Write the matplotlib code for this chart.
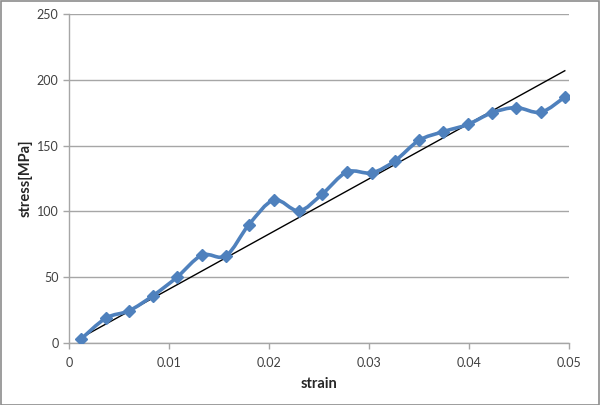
import matplotlib
matplotlib.use("Agg")
import matplotlib.pyplot as plt
from matplotlib.path import Path
from matplotlib.patches import PathPatch, Rectangle
import numpy as np

strain = [0.0012, 0.0037, 0.0060, 0.0084, 0.0108, 0.0133, 0.0157, 0.0180,
          0.0205, 0.0230, 0.0253, 0.0278, 0.0303, 0.0326, 0.0350, 0.0374,
          0.0399, 0.0423, 0.0447, 0.0472, 0.0496]
stress = [3, 19, 24.5, 36, 50, 66.8, 66.3, 90, 108.7, 100.5, 113, 130,
          129.4, 138.5, 154, 160.6, 166.2, 175, 179, 175.5, 187]
fit_x = [0.0012, 0.0496]
fit_y = [4.0, 207.0]

x_ticks = [0, 0.01, 0.02, 0.03, 0.04, 0.05]
x_labels = ["0", "0.01", "0.02", "0.03", "0.04", "0.05"]
y_ticks = [0, 50, 100, 150, 200, 250]

plt.rcParams['font.family'] = ['Lato', 'DejaVu Sans']

fig = plt.figure(figsize=(6, 4.05), dpi=100)
ax = fig.add_axes([0.115, 0.153, 0.833, 0.812])
fig.patches.append(Rectangle((0.001, 0.001), 0.997, 0.996, transform=fig.transFigure,
                             fill=False, edgecolor='#8c8c8c', linewidth=1.2))

ax.set_xlim(0, 0.05)
ax.set_ylim(0, 250)
ax.set_xticks(x_ticks)
ax.set_xticklabels(x_labels)
ax.set_yticks(y_ticks)
ax.yaxis.grid(True, color='#a6a6a6', linewidth=1.0)
ax.set_axisbelow(True)
for s in ['top', 'right']:
    ax.spines[s].set_visible(False)
for s in ['left', 'bottom']:
    ax.spines[s].set_color('#a6a6a6')
    ax.spines[s].set_linewidth(1.0)
ax.tick_params(axis='both', colors='#a6a6a6', labelcolor='#404040', labelsize=9,
               length=4, width=1.0, direction='out')
ax.tick_params(axis='x', pad=6)

# fit line
ax.plot(fit_x, fit_y, color='black', linewidth=1.0, zorder=3)

# smoothed curve through points (Catmull-Rom -> Bezier), in data coordinates
xs = np.array(strain)
ys = np.array(stress)
n = len(xs)
verts = [(xs[0], ys[0])]
codes = [Path.MOVETO]
t = 1.0 / 6.0
for i in range(n - 1):
    p0 = np.array([xs[max(i - 1, 0)], ys[max(i - 1, 0)]])
    p1 = np.array([xs[i], ys[i]])
    p2 = np.array([xs[i + 1], ys[i + 1]])
    p3 = np.array([xs[min(i + 2, n - 1)], ys[min(i + 2, n - 1)]])
    c1 = p1 + (p2 - p0) * t
    c2 = p2 - (p3 - p1) * t
    verts += [tuple(c1), tuple(c2), tuple(p2)]
    codes += [Path.CURVE4, Path.CURVE4, Path.CURVE4]
patch = PathPatch(Path(verts, codes), facecolor='none', edgecolor='#4f81bd',
                  linewidth=2.6, zorder=4, capstyle='round', joinstyle='round')
ax.add_patch(patch)
ax.plot(strain, stress, linestyle='none', marker='D', markersize=6,
        color='#4f81bd', zorder=5)

ax.set_xlabel('strain', fontsize=10.5, fontweight='bold', color='#262626', labelpad=6)
ax.set_ylabel('stress[MPa]', fontsize=10.5, fontweight='bold', color='#262626', labelpad=3)

fig.savefig('out.png', dpi=100)
